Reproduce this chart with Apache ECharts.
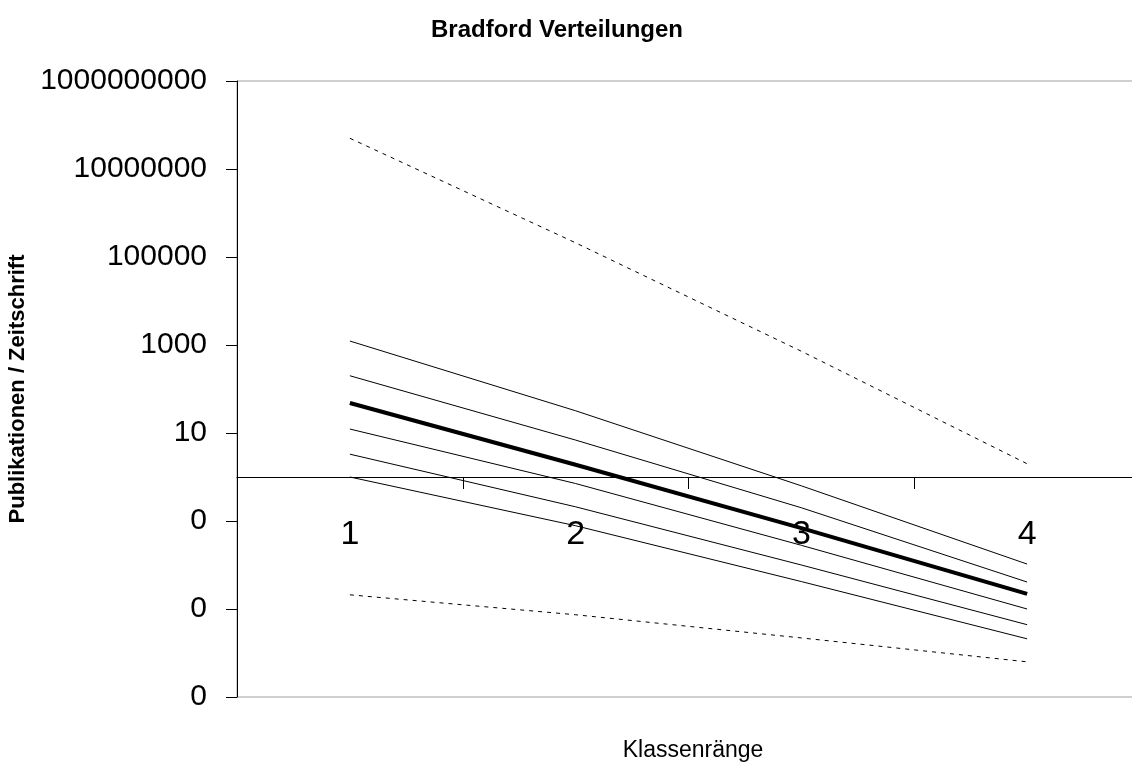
<!DOCTYPE html>
<html>
<head>
<meta charset="utf-8">
<title>Bradford Verteilungen</title>
<script src="https://cdn.jsdelivr.net/npm/echarts@6/dist/echarts.min.js"></script>
<style>
  html, body { margin: 0; padding: 0; background: #fff; }
  #chart { width: 1132px; height: 763px; }
</style>
</head>
<body>
<div id="chart"></div>
<script>
// Klassenränge (x-Achse)
const classes = ['1', '2', '3', '4']
// beschriftete Werte der log. y-Achse
const yTicks = [0.00001, 0.001, 0.1, 10, 1000, 100000, 10000000, 1000000000]

// Verteilungen, von oben nach unten
const upperDashed = [5.0e7, 2.1e5, 720, 2.0]
const line1 = [1230, 32, 0.63, 0.0105]
const line2 = [200, 6.9, 0.20, 0.0041]
const mainLine = [48, 1.9, 0.069, 0.0022]
const line4 = [12.3, 0.71, 0.028, 0.001]
const line5 = [3.3, 0.21, 0.010, 0.00044]
const line6 = [1.0, 0.078, 0.0042, 0.00021]
const lowerDashed = [0.0021, 0.00074, 0.00022, 0.000063]

const font = "'Liberation Sans', Arial, sans-serif"

const makeLine = (name, data, width, dashed) => ({
  name,
  type: 'line',
  data,
  symbol: 'none',
  silent: true,
  lineStyle: {
    color: '#000',
    width,
    type: dashed ? [4, 5] : 'solid'
  }
})

const chart = echarts.init(document.getElementById('chart'))
chart.setOption({
  animation: false,
  backgroundColor: '#fff',
  title: [
    {
      text: 'Bradford Verteilungen',
      left: 552,
      top: 13,
      textAlign: 'center',
      textStyle: {fontFamily: font, fontSize: 24, fontWeight: 'bold', color: '#000'}
    },
    {
      text: 'Klassenränge',
      left: 688,
      top: 734,
      textAlign: 'center',
      textStyle: {fontFamily: font, fontSize: 23, fontWeight: 'normal', color: '#000'}
    }
  ],
  grid: {
    left: 237,
    width: 903, // Plotfläche reicht rechts über den Rand hinaus
    top: 81,
    bottom: 66,
    outerBoundsMode: 'none',
    show: true,
    borderColor: '#a0a0a0',
    borderWidth: 1
  },
  xAxis: {
    type: 'category',
    data: classes,
    position: 'bottom',
    offset: -220, // Achse schneidet bei y = 1
    boundaryGap: true,
    axisLine: {onZero: false, lineStyle: {color: '#000', width: 1}},
    axisTick: {show: true, length: 12, lineStyle: {color: '#000'}},
    axisLabel: {
      fontFamily: font,
      fontSize: 34,
      color: '#000',
      margin: 41
    },
    splitLine: {show: false}
  },
  yAxis: {
    type: 'log',
    logBase: 10,
    min: 0.00001,
    max: 1000000000,
    name: 'Publikationen / Zeitschrift',
    nameLocation: 'middle',
    nameRotate: 90,
    nameGap: 203,
    nameTextStyle: {fontFamily: font, fontSize: 22, fontWeight: 'bold', color: '#000'},
    axisLine: {show: true, lineStyle: {color: '#000', width: 1}},
    axisTick: {show: true, length: 11, lineStyle: {color: '#000'}, customValues: yTicks},
    axisLabel: {
      customValues: yTicks,
      fontFamily: font,
      fontSize: 30,
      color: '#000',
      margin: 30,
      formatter: (v) => v >= 1 ? String(Math.round(v)) : '0'
    },
    splitLine: {show: false}
  },
  series: [
    makeLine('obere Grenze', upperDashed, 1, true),
    makeLine('Verteilung 1', line1, 1, false),
    makeLine('Verteilung 2', line2, 1, false),
    makeLine('Mittel', mainLine, 4, false),
    makeLine('Verteilung 4', line4, 1, false),
    makeLine('Verteilung 5', line5, 1, false),
    makeLine('Verteilung 6', line6, 1, false),
    makeLine('untere Grenze', lowerDashed, 1, true)
  ]
})
</script>
</body>
</html>
